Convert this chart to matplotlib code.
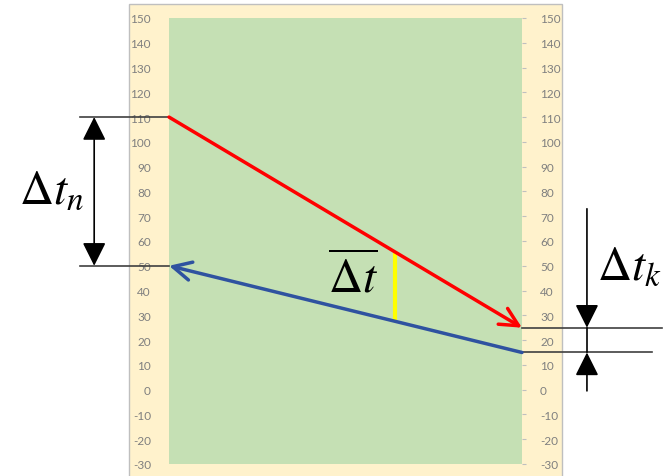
import matplotlib.pyplot as plt
from matplotlib.patches import Rectangle
import numpy as np

plt.rcParams['mathtext.fontset'] = 'stix'
plt.rcParams['axes.unicode_minus'] = False

# data
x_pos = [0, 1]
red_vals = [110, 25]
blue_vals = [50, 15]
yellow_x = 0.64
y_ticks = list(range(-30, 151, 10))

fig = plt.figure(figsize=(6.67, 4.77), dpi=100)

# beige chart panel behind the plot area
fig.patches.append(Rectangle((0.194, -0.01), 0.649, 1.0, transform=fig.transFigure,
                             facecolor='#FFF2CC', edgecolor='#BFBFBF', lw=1, zorder=-5))

ax = fig.add_axes([0.2534, 0.0252, 0.5292, 0.935])
ax.set_facecolor('#C5E0B4')
ax.set_xlim(0, 1)
ax.set_ylim(-30, 150)
for s in ax.spines.values():
    s.set_visible(False)
ax.set_xticks([])
ax.set_yticks(y_ticks)
ax.tick_params(axis='y', which='both', left=False, right=True, labelleft=True, labelright=True,
               length=3, color='#BFBFBF', labelcolor='#7F7F7F', labelsize=8.5, pad=10)
for lab in ax.get_yticklabels():
    lab.set_fontfamily('Lato')

# red line with arrow at the right end
ax.annotate('', xy=(x_pos[1], red_vals[1]), xytext=(x_pos[0], red_vals[0]),
            arrowprops=dict(arrowstyle='->,head_length=0.6,head_width=0.3', color='#FF0000',
                            lw=2.5, shrinkA=0, shrinkB=0, mutation_scale=22))
# blue line with arrow at the left end
ax.annotate('', xy=(x_pos[0], blue_vals[0]), xytext=(x_pos[1], blue_vals[1]),
            arrowprops=dict(arrowstyle='->,head_length=0.6,head_width=0.3', color='#2F52A0',
                            lw=2.5, shrinkA=0, shrinkB=0, mutation_scale=22))
# yellow gap between the lines
y_top = np.interp(yellow_x, x_pos, red_vals)
y_bot = np.interp(yellow_x, x_pos, blue_vals)
ax.plot([yellow_x, yellow_x], [y_bot, y_top], color='#FFFF00', lw=3, solid_capstyle='butt')
ax.text(0.45, 39.5, r'$\overline{\Delta t}$', fontsize=34, ha='left', va='baseline')

# left dimension: delta t_n
dim = dict(color='#404040', lw=1.2, clip_on=False)
head = dict(color='black', lw=1.2, shrinkA=0, shrinkB=0, mutation_scale=18)
ax.plot([-0.252, 0], [red_vals[0], red_vals[0]], **dim)
ax.plot([-0.252, 0], [blue_vals[0], blue_vals[0]], **dim)
ax.annotate('', xy=(-0.212, red_vals[0]), xytext=(-0.212, blue_vals[0]),
            arrowprops=dict(arrowstyle='<|-|>,head_length=0.8,head_width=0.4', **head),
            annotation_clip=False)
ax.text(-0.425, 75.5, r'$\Delta t_n$', fontsize=34, ha='left', va='baseline')

# right dimension: delta t_k
ax.plot([1, 1.397], [red_vals[1], red_vals[1]], **dim)
ax.plot([1, 1.368], [blue_vals[1], blue_vals[1]], **dim)
ax.plot([1.184, 1.184], [red_vals[1], blue_vals[1]], color='black', lw=1.2, clip_on=False)
ax.annotate('', xy=(1.184, red_vals[1]), xytext=(1.184, 73),
            arrowprops=dict(arrowstyle='-|>,head_length=0.8,head_width=0.4', **head),
            annotation_clip=False)
ax.annotate('', xy=(1.184, blue_vals[1]), xytext=(1.184, -0.5),
            arrowprops=dict(arrowstyle='-|>,head_length=0.8,head_width=0.4', **head),
            annotation_clip=False)
ax.text(1.212, 44.7, r'$\Delta t_k$', fontsize=34, ha='left', va='baseline')

plt.savefig('out.png', dpi=100)
